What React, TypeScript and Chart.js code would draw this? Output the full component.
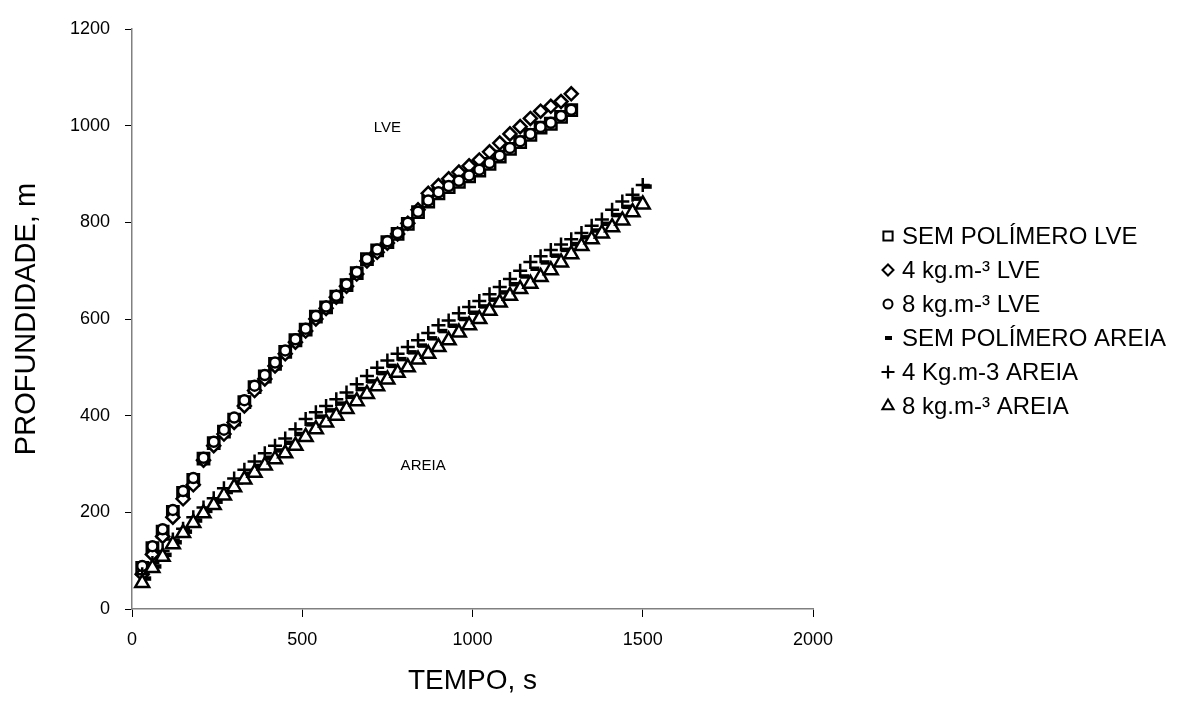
import React, { useEffect, useRef } from 'react';
import { Chart, registerables } from 'chart.js';
import { drawPoint } from 'chart.js/helpers';

Chart.register(...registerables);

const FONT = '"Liberation Sans", Arial, Helvetica, sans-serif';

// Time (s)
const timeLVE = [30, 60, 90, 120, 150, 180, 210, 240, 270, 300, 330, 360, 390, 420, 450, 480, 510, 540, 570, 600, 630, 660, 690, 720, 750, 780, 810, 840, 870, 900, 930, 960, 990, 1020, 1050, 1080, 1110, 1140, 1170, 1200, 1230, 1260, 1290];
const timeAREIA = [30, 60, 90, 120, 150, 180, 210, 240, 270, 300, 330, 360, 390, 420, 450, 480, 510, 540, 570, 600, 630, 660, 690, 720, 750, 780, 810, 840, 870, 900, 930, 960, 990, 1020, 1050, 1080, 1110, 1140, 1170, 1200, 1230, 1260, 1290, 1320, 1350, 1380, 1410, 1440, 1470, 1500];

// Depth (m)
const semPolimeroLVE = [85, 126, 160, 201, 240, 267, 311, 343, 367, 392, 428, 459, 481, 507, 532, 556, 578, 605, 624, 646, 670, 695, 724, 742, 759, 776, 797, 821, 843, 860, 873, 884, 895, 907, 921, 936, 952, 966, 981, 996, 1004, 1018, 1032];
const kg4LVE = [72, 113, 150, 190, 228, 257, 308, 338, 362, 386, 420, 452, 476, 503, 528, 552, 575, 600, 622, 645, 668, 693, 720, 738, 757, 776, 798, 826, 860, 876, 890, 904, 917, 929, 946, 964, 983, 998, 1015, 1030, 1040, 1050, 1066];
const kg8LVE = [89, 130, 165, 205, 244, 271, 313, 346, 371, 396, 432, 462, 484, 510, 535, 558, 580, 606, 626, 648, 672, 697, 724, 744, 761, 778, 799, 822, 845, 862, 875, 886, 897, 909, 923, 938, 954, 968, 983, 997, 1006, 1020, 1033];
const semPolimeroAREIA = [63, 88, 112, 138, 160, 183, 203, 222, 242, 262, 280, 296, 313, 328, 344, 362, 382, 398, 411, 425, 439, 455, 471, 488, 503, 517, 531, 545, 560, 575, 586, 600, 613, 626, 640, 655, 672, 688, 704, 717, 731, 743, 755, 769, 783, 797, 815, 832, 849, 874];
const kg4AREIA = [72, 95, 120, 144, 166, 190, 210, 229, 250, 270, 288, 305, 322, 338, 353, 372, 393, 407, 420, 434, 448, 465, 482, 499, 514, 528, 542, 556, 571, 587, 597, 612, 625, 637, 651, 666, 683, 700, 718, 730, 743, 754, 765, 778, 793, 806, 826, 843, 857, 877];
const kg8AREIA = [54, 85, 108, 134, 157, 178, 198, 215, 235, 252, 268, 282, 297, 310, 322, 338, 356, 372, 386, 400, 414, 430, 445, 461, 475, 489, 500, 516, 528, 542, 556, 572, 587, 600, 617, 634, 648, 662, 673, 687, 701, 717, 734, 751, 765, 777, 790, 804, 821, 837];

const seriesNames = ['SEM POLÍMERO LVE', '4 kg.m-³ LVE', '8 kg.m-³ LVE', 'SEM POLÍMERO AREIA', '4 Kg.m-3 AREIA', '8 kg.m-³ AREIA'];

const xTicks = [0, 500, 1000, 1500, 2000];
const yTicks = [0, 200, 400, 600, 800, 1000, 1200];

const groupLabels = [
  { text: 'LVE', x: 750, y: 995 },
  { text: 'AREIA', x: 855, y: 297 },
];

function pairs(xs: number[], ys: number[]) {
  return ys.map((y, i) => ({ x: xs[i], y }));
}

export default function App() {
  const ref = useRef<HTMLCanvasElement>(null);

  useEffect(() => {
    if (!ref.current) return;
    const styles = [
      { pointStyle: 'rect', radius: 8, borderWidth: 2.5, legendRadius: 6.5, legendWidth: 2 },
      { pointStyle: 'rectRot', radius: 6.5, borderWidth: 2.5, legendRadius: 5.5, legendWidth: 2 },
      { pointStyle: 'circle', radius: 5, borderWidth: 2.5, legendRadius: 4.5, legendWidth: 2 },
      { pointStyle: 'dash', radius: 9, borderWidth: 4.5, legendRadius: 7, legendWidth: 4 },
      { pointStyle: 'cross', radius: 7, borderWidth: 2.5, legendRadius: 6.5, legendWidth: 2.2 },
      { pointStyle: 'triangle', radius: 8, borderWidth: 2.5, legendRadius: 6.5, legendWidth: 2 },
    ];
    const legendOffsets = [0, 0, 0, -3, 0, 0];
    const seriesData = [
      pairs(timeLVE, semPolimeroLVE),
      pairs(timeLVE, kg4LVE),
      pairs(timeLVE, kg8LVE),
      pairs(timeAREIA, semPolimeroAREIA),
      pairs(timeAREIA, kg4AREIA),
      pairs(timeAREIA, kg8AREIA),
    ];
    const datasets = seriesData.map((data, i) => ({
      label: seriesNames[i],
      data,
      showLine: false,
      pointStyle: styles[i].pointStyle as any,
      pointRadius: styles[i].radius,
      pointBorderWidth: styles[i].borderWidth,
      pointBackgroundColor: '#ffffff',
      pointBorderColor: '#000000',
      backgroundColor: '#ffffff',
      borderColor: '#000000',
      order: seriesData.length - i,
    }));

    const sidePlugin = {
      id: 'sideLegendAndLabels',
      afterDraw(chart: any) {
        const ctx = chart.ctx as CanvasRenderingContext2D;
        ctx.save();
        // group labels
        ctx.fillStyle = '#000';
        ctx.font = `15px ${FONT}`;
        ctx.textAlign = 'center';
        ctx.textBaseline = 'middle';
        groupLabels.forEach((g) => {
          ctx.fillText(g.text, chart.scales.x.getPixelForValue(g.x), chart.scales.y.getPixelForValue(g.y));
        });
        // legend
        const legX = 888;
        const legTextX = 902;
        const legTop = 236;
        const legStep = 34;
        ctx.font = `24px ${FONT}`;
        ctx.textAlign = 'left';
        seriesNames.forEach((name, i) => {
          const y = legTop + i * legStep;
          ctx.fillStyle = '#ffffff';
          ctx.strokeStyle = '#000000';
          ctx.lineWidth = styles[i].legendWidth;
          drawPoint(ctx, { pointStyle: styles[i].pointStyle as any, radius: styles[i].legendRadius, borderWidth: styles[i].legendWidth, rotation: 0 } as any, legX + legendOffsets[i], y);
          ctx.fillStyle = '#000';
          ctx.fillText(name, legTextX, y + 1);
        });
        ctx.restore();
      },
    };

    const chart = new Chart(ref.current, {
      type: 'scatter',
      data: { datasets },
      options: {
        animation: false,
        responsive: true,
        maintainAspectRatio: false,
        layout: { padding: { left: 0, right: 366, top: 29, bottom: 0 } },
        plugins: { legend: { display: false }, tooltip: { enabled: false } },
        scales: {
          x: {
            type: 'linear',
            min: 0,
            max: 2000,
            afterBuildTicks: (s: any) => { s.ticks = xTicks.map((v) => ({ value: v })); },
            afterFit: (s: any) => { s.height = 98; },
            grid: { drawOnChartArea: false, drawTicks: true, tickLength: 8, color: '#000', lineWidth: 1 },
            border: { display: true, color: '#808080', width: 1.5 },
            ticks: { color: '#000', font: { family: FONT, size: 18 }, padding: 12, maxRotation: 0, callback: (v: any) => String(v) },
            title: { display: true, text: 'TEMPO, s', color: '#000', font: { family: FONT, size: 28 }, padding: { top: 0, bottom: 9 } },
          },
          y: {
            type: 'linear',
            min: 0,
            max: 1200,
            afterBuildTicks: (s: any) => { s.ticks = yTicks.map((v) => ({ value: v })); },
            afterFit: (s: any) => { s.width = 132; },
            grid: { drawOnChartArea: false, drawTicks: true, tickLength: 7, color: '#000', lineWidth: 1 },
            border: { display: true, color: '#808080', width: 1.5 },
            ticks: { color: '#000', font: { family: FONT, size: 18 }, padding: 15, callback: (v: any) => String(v) },
            title: { display: true, text: 'PROFUNDIDADE, m', color: '#000', font: { family: FONT, size: 29 }, padding: { top: 10, bottom: 0 } },
          },
        },
      },
      plugins: [sidePlugin],
    });
    return () => chart.destroy();
  }, []);

  return (
    <div style={{ position: 'fixed', left: 0, top: 0, width: 1179, height: 707, background: '#fff' }}>
      <canvas ref={ref} />
    </div>
  );
}
